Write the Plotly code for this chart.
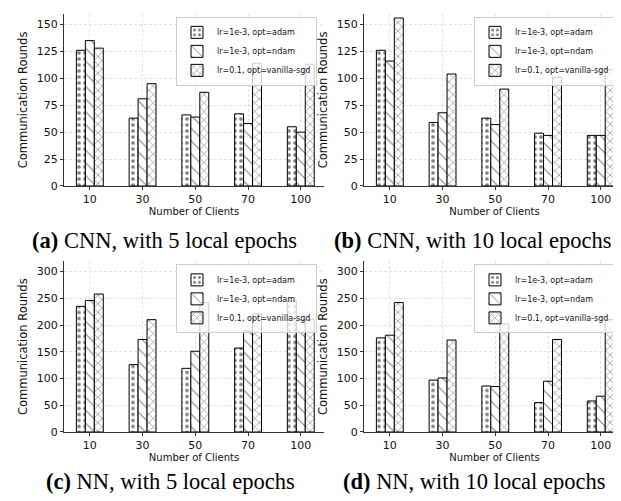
import plotly.graph_objects as go

clients = ["10", "30", "50", "70", "100"]
series_names = ["lr=1e-3, opt=adam", "lr=1e-3, opt=ndam", "lr=0.1, opt=vanilla-sgd"]

# (a) CNN, 5 local epochs
a_adam = [126, 63, 66, 67, 55]
a_ndam = [135, 81, 64, 58, 50]
a_sgd = [128, 95, 87, 114, 113]
# (b) CNN, 10 local epochs
b_adam = [126, 59, 63, 49, 47]
b_ndam = [116, 68, 57, 47, 47]
b_sgd = [156, 104, 90, 101, 108]
# (c) NN, 5 local epochs
c_adam = [235, 126, 119, 157, 245]
c_ndam = [246, 173, 151, 189, 210]
c_sgd = [258, 210, 242, 221, 210]
# (d) NN, 10 local epochs
d_adam = [176, 97, 86, 55, 58]
d_ndam = [181, 101, 85, 95, 67]
d_sgd = [242, 172, 202, 173, 210]

captions = ["<b>(a)</b> CNN, with 5 local epochs", "<b>(b)</b> CNN, with 10 local epochs",
            "<b>(c)</b> NN, with 5 local epochs", "<b>(d)</b> NN, with 10 local epochs"]

W, H = 621, 501
def px(x): return x / W
def py(y): return 1 - y / H

panels = [
    dict(data=[a_adam, a_ndam, a_sgd], x0=56, x1=316, y0=6, y1=180.5, yr=[0, 159.8], dt=25, xr=[-0.49, 4.44], lx=309),
    dict(data=[b_adam, b_ndam, b_sgd], x0=356, x1=617, y0=6, y1=180.5, yr=[0, 159.8], dt=25, xr=[-0.49, 4.46], lx=607),
    dict(data=[c_adam, c_ndam, c_sgd], x0=56, x1=316, y0=257, y1=430, yr=[0, 319], dt=50, xr=[-0.49, 4.44], lx=309),
    dict(data=[d_adam, d_ndam, d_sgd], x0=356, x1=617, y0=257, y1=430, yr=[0, 319], dt=50, xr=[-0.49, 4.46], lx=607),
]
patterns = [
    dict(shape=".", size=6, solidity=0.3),
    dict(shape="\\", size=9, solidity=0.12),
    dict(shape="x", size=6, solidity=0.2),
]

fig = go.Figure()
layout = {}
for i, p in enumerate(panels):
    n = i + 1
    xa = "x" if n == 1 else f"x{n}"
    ya = "y" if n == 1 else f"y{n}"
    lg = "legend" if n == 1 else f"legend{n}"
    for s in range(3):
        fig.add_trace(go.Bar(
            x=clients, y=p["data"][s], name=series_names[s], xaxis=xa, yaxis=ya, legend=lg,
            marker=dict(color="white", line=dict(color="black", width=1),
                        pattern=dict(fgcolor="black", bgcolor="white", **patterns[s])),
        ))
    axcommon = dict(showline=True, linecolor="#333", linewidth=1, mirror=False,
                    showgrid=True, gridcolor="#e3e3e3", griddash="3px,2px", gridwidth=1,
                    ticks="outside", ticklen=3, tickcolor="#333",
                    tickfont=dict(family="DejaVu Sans", size=11, color="#111"), zeroline=False)
    layout["xaxis" if n == 1 else f"xaxis{n}"] = dict(
        domain=[px(p["x0"]), px(p["x1"])], anchor=ya, range=p["xr"], type="category",
        title=dict(text="Number of Clients", standoff=0, font=dict(family="DejaVu Sans", size=10, color="#111")),
        **axcommon)
    layout["yaxis" if n == 1 else f"yaxis{n}"] = dict(
        domain=[py(p["y1"]), py(p["y0"])], anchor=xa, range=p["yr"], dtick=p["dt"], tick0=0,
        title=dict(text="Communication Rounds", standoff=6, font=dict(family="DejaVu Sans", size=11.5, color="#111")),
        **axcommon)
    layout[lg] = dict(x=px(p["lx"]), y=py(p["y0"] + 3), xanchor="right", yanchor="top",
                      bgcolor="rgba(255,255,255,0.8)", bordercolor="#cccccc", borderwidth=1,
                      font=dict(family="DejaVu Sans", size=8, color="#111"),
                      tracegroupgap=0, itemwidth=30)

fig.update_layout(**layout)
fig.update_layout(width=W, height=H, margin=dict(l=0, r=0, t=0, b=0),
                  plot_bgcolor="white", paper_bgcolor="white",
                  barmode="group", bargap=0.49, bargroupgap=0)

cap_pos = [(156, 236), (464, 236), (162, 480), (466, 480)]
for (cx, cy), txt in zip(cap_pos, captions):
    fig.add_annotation(x=px(cx), y=py(cy), xref="paper", yref="paper", text=txt, showarrow=False,
                       font=dict(family="Liberation Serif", size=22.5, color="black"),
                       xanchor="center", yanchor="middle")

fig.write_html("out.html")
